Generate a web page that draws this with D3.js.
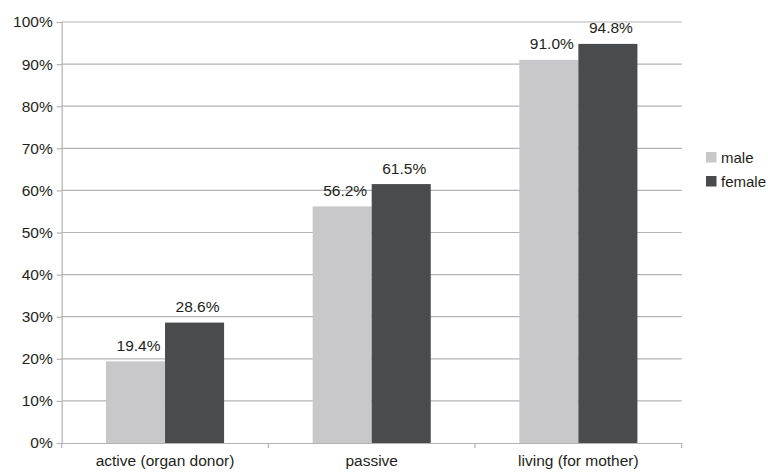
<!DOCTYPE html>
<html>
<head>
<meta charset="utf-8">
<script src="https://cdn.jsdelivr.net/npm/d3@7"></script>
<style>
  html, body { margin: 0; padding: 0; background: #fff; }
  svg text { font-family: "Liberation Sans", Arial, sans-serif; fill: #231f20; }
</style>
</head>
<body>
<svg id="chart" width="768" height="472"></svg>
<script>
// Share of respondents willing to donate, by donation type and sex
const categories = ["active (organ donor)", "passive", "living (for mother)"];
const seriesNames = ["male", "female"];
const maleValues = [19.4, 56.2, 91.0];
const femaleValues = [28.6, 61.5, 94.8];
const yTicks = [0, 10, 20, 30, 40, 50, 60, 70, 80, 90, 100];
const seriesColors = ["#c8c8ca", "#4a4b4d"];

const svg = d3.select("#chart");
const margin = { left: 61.7, right: 681.7, top: 22, bottom: 443 };
const fontSize = 15.5;

const x = d3.scaleBand().domain(categories).range([margin.left, margin.right]).paddingInner(0).paddingOuter(0);
const inner = d3.scaleBand().domain(seriesNames).range([0, x.bandwidth()]).paddingInner(0).paddingOuter(0.75);
const y = d3.scaleLinear().domain([0, 100]).range([margin.bottom, margin.top]);

// horizontal gridlines
svg.append("g").selectAll("line").data(yTicks.filter(d => d > 0)).join("line")
  .attr("x1", margin.left).attr("x2", margin.right)
  .attr("y1", d => y(d)).attr("y2", d => y(d))
  .attr("stroke", "#b3b3b3").attr("stroke-width", 1.2);

// y axis
const yAxis = svg.append("g").attr("transform", `translate(${margin.left},0)`)
  .call(d3.axisLeft(y).tickValues(yTicks).tickFormat(d => d + "%").tickSize(5).tickPadding(4));
yAxis.select(".domain").attr("stroke", "#b3b3b3").attr("stroke-width", 1.2);
yAxis.selectAll(".tick line").attr("stroke", "#b3b3b3").attr("stroke-width", 1.2);
yAxis.selectAll(".tick text").attr("font-size", fontSize).style("fill", "#231f20");

// bars
const rows = categories.map((c, i) => ({ cat: c, vals: [maleValues[i], femaleValues[i]] }));
const groups = svg.append("g").selectAll("g").data(rows).join("g")
  .attr("transform", d => `translate(${x(d.cat)},0)`);
groups.selectAll("rect").data(d => d.vals.map((v, j) => ({ v, s: seriesNames[j], j }))).join("rect")
  .attr("x", d => inner(d.s)).attr("width", inner.bandwidth())
  .attr("y", d => y(d.v)).attr("height", d => y(0) - y(d.v))
  .attr("fill", d => seriesColors[d.j]);
groups.selectAll("text").data(d => d.vals.map((v, j) => ({ v, s: seriesNames[j], j }))).join("text")
  .attr("x", d => inner(d.s) + inner.bandwidth() / 2 + 3)
  .attr("y", d => y(d.v) - 10.5)
  .attr("text-anchor", "middle").attr("font-size", fontSize)
  .text(d => d.v.toFixed(1) + "%");

// x axis
const xAxis = svg.append("g").attr("transform", `translate(0,${margin.bottom})`)
  .call(d3.axisBottom(x).tickSize(0).tickPadding(0));
xAxis.select(".domain").attr("stroke", "#b3b3b3").attr("stroke-width", 1.2);
xAxis.selectAll(".tick text").attr("font-size", fontSize).attr("dy", null).attr("y", 23).style("fill", "#231f20");
svg.append("g").selectAll("line").data(d3.range(categories.length + 1)).join("line")
  .attr("x1", i => margin.left + i * x.step()).attr("x2", i => margin.left + i * x.step())
  .attr("y1", margin.bottom).attr("y2", margin.bottom + 5)
  .attr("stroke", "#b3b3b3").attr("stroke-width", 1.2);

// legend
const legend = svg.append("g").attr("transform", "translate(706,152)");
seriesNames.forEach((name, i) => {
  const g = legend.append("g").attr("transform", `translate(0,${i * 24})`);
  g.append("rect").attr("width", 10.5).attr("height", 10.5).attr("fill", seriesColors[i]);
  g.append("text").attr("x", 15).attr("y", 10.5).attr("font-size", 15).text(name);
});
</script>
</body>
</html>
